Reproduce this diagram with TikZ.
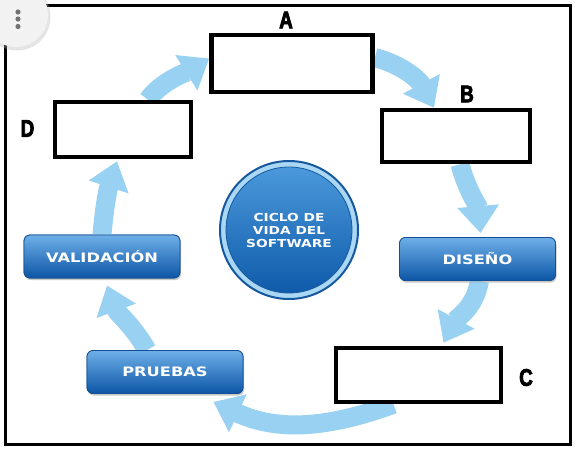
\documentclass[tikz,border=0pt]{standalone}
\usepackage{fontspec}
\usetikzlibrary{arrows.meta,shadows}
\newfontfamily\techfont{DejaVu Sans}[FakeStretch=1.25]
\newfontfamily\tagfont{Liberation Sans Bold}[FakeStretch=0.78,FakeBold=3.5]

\definecolor{flowblue}{RGB}{152,209,242}
\definecolor{btntop}{RGB}{110,175,232}
\definecolor{btnmid}{RGB}{28,118,202}
\definecolor{btnbot}{RGB}{12,86,166}
\definecolor{btnline}{RGB}{20,78,148}
\definecolor{ringdark}{RGB}{22,88,158}
\definecolor{ringlight}{RGB}{170,216,244}
\definecolor{hubtop}{RGB}{78,156,222}
\definecolor{hubbot}{RGB}{12,88,168}

\tikzset{
  blank/.style = {% empty answer box
    draw=black, fill=white, line width=4.5pt,
    inner sep=0pt, minimum width=#1, minimum height=55pt,
  },
  blank/.default = {150pt},
  phase/.style = {% blue glossy button
    rounded corners=6pt, draw=btnline, line width=0.8pt,
    top color=btntop, middle color=btnmid, bottom color=btnbot,
    drop shadow={opacity=0.25, shadow xshift=1pt, shadow yshift=-2pt},
    minimum width=156pt, minimum height=43pt, inner sep=0pt,
    text=white, font=\techfont\bfseries\fontsize{13}{13}\selectfont,
  },
  flow/.style = {% light blue cycle arrow
    draw=flowblue, line width=19pt,
    -{Triangle[width=40pt,length=27pt]},
  },
  tag/.style = {inner sep=0pt, font=\tagfont\fontsize{24}{24}\selectfont},
}

\begin{document}
\begin{tikzpicture}[x=1pt, y=1pt]
  \useasboundingbox (0,0) rectangle (575,-450);
  \draw[line width=3pt] (5,-5.5) rectangle (570,-444);

  % boxes and buttons first as coordinates for the arrows
  \path
    node[blank=161pt, minimum height=57pt] (A) at (292,-63.5) {}
    node[blank=148pt, minimum height=52pt] (B) at (456,-136) {}
    node[blank=165pt, minimum height=54pt] (C) at (418.5,-375) {}
    node[blank=136pt] (D) at (123,-129.5) {};
  \path
    node[phase] (diseno) at (477.5,-259) {}
    node[phase] (pruebas) at (165,-372) {}
    node[phase] (validacion) at (102,-256.5) {};

  % the cycle
  \draw[flow] ([xshift=25pt]D.north) to[out=55,in=212,looseness=0.8] ([yshift=5pt]A.west);
  \draw[flow] ([yshift=6pt]A.east) to[out=-15,in=118] ([xshift=-22pt]B.north);
  \draw[flow] ([xshift=4pt]B.south) to[out=-75,in=95] ([xshift=3pt,yshift=4pt]diseno.north);
  \draw[flow] ([xshift=2pt]diseno.south) to[out=-100,in=62] ([xshift=25pt,yshift=3pt]C.north);
  \draw[flow] ([xshift=-25pt]C.south) to[out=200,in=-25] ([xshift=-30pt,yshift=-8pt]pruebas.south east);
  \draw[flow] ([xshift=-18pt]pruebas.north) to[out=120,in=-70] ([xshift=5pt,yshift=-7pt]validacion.south);
  \draw[flow] (validacion.north) to[out=85,in=-108] ([xshift=-6pt,yshift=-2pt]D.south);

  % centre disc
  \node[circle, minimum size=138pt, draw=ringdark, line width=2pt, fill=ringlight,
        text=white, align=center, inner sep=0pt,
        font=\techfont\bfseries\fontsize{11}{13}\selectfont,
        path picture={\shade[top color=hubtop, bottom color=hubbot, draw=ringdark, line width=0.8pt]
          (path picture bounding box.center) circle (63pt);}]
    (hub) at (289,-230) {CICLO DE\\VIDA DEL\\SOFTWARE};

  \node[phase] at (diseno) {DISEÑO};
  \node[phase] at (pruebas) {PRUEBAS};
  \node[phase] at (validacion) {VALIDACIÓN};

  \node[blank=161pt, minimum height=57pt] at (A) {};
  \node[blank=148pt, minimum height=52pt] at (B) {};
  \node[blank=165pt, minimum height=54pt] at (C) {};
  \node[blank=136pt] at (D) {};

  \node[tag] (labA) at (286,-20) {A};
  \node[tag] (labB) at (467,-94) {B};
  \node[tag] (labC) at (526,-377.5) {C};
  \node[tag] (labD) at (27.5,-128.5) {D};

  % menu button in the corner
  \fill[black!30, opacity=0.35] (17,-17) circle (33.5);
  \fill[black!5] (16,-15) circle (32);
  \foreach \dy in {12,19,26.5}
    \fill[black!55] (18,-\dy) circle (2.6);
\end{tikzpicture}
\end{document}
